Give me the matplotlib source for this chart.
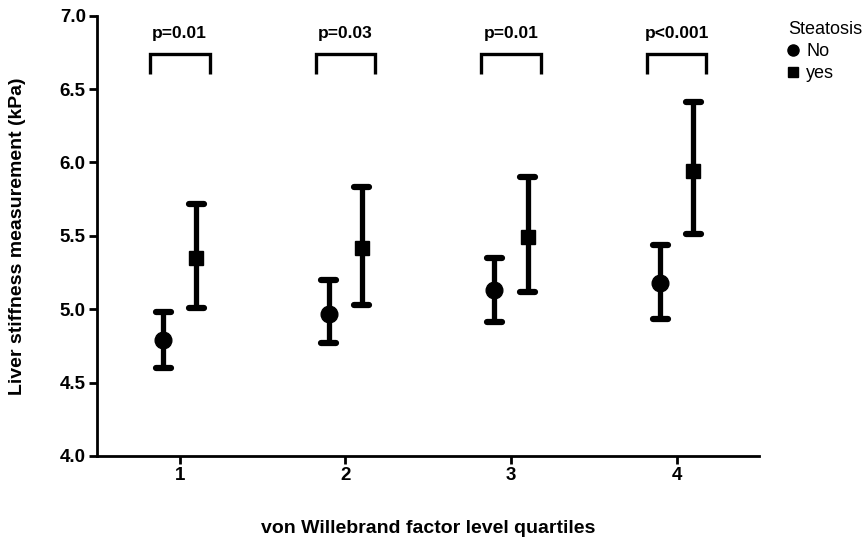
import numpy as np
import matplotlib.pyplot as plt
from matplotlib.lines import Line2D

plt.rcParams['font.family'] = ['Liberation Sans', 'DejaVu Sans']

# von Willebrand factor quartiles
quartiles = [1, 2, 3, 4]

# LSM (kPa): mean and 95% CI, no steatosis
no_mean = [4.79, 4.97, 5.13, 5.18]
no_low = [4.60, 4.77, 4.91, 4.93]
no_high = [4.98, 5.20, 5.35, 5.44]

# LSM (kPa): mean and 95% CI, steatosis
yes_mean = [5.35, 5.42, 5.49, 5.94]
yes_low = [5.01, 5.03, 5.12, 5.51]
yes_high = [5.72, 5.83, 5.90, 6.41]

p_labels = ['p=0.01', 'p=0.03', 'p=0.01', 'p<0.001']

x = np.array(quartiles, dtype=float)
dx = 0.1

fig = plt.figure(figsize=(8.65, 5.44), dpi=100)
ax = fig.add_axes([0.112, 0.162, 0.766, 0.809])


def draw_group(xpos, mean, low, high, marker, ms):
    mean = np.array(mean)
    yerr = [mean - np.array(low), np.array(high) - mean]
    ax.errorbar(xpos, mean, yerr=yerr, fmt=marker, ms=ms, color='black',
                ecolor='black', elinewidth=3.8, capsize=0, zorder=3)
    # rounded caps drawn as short thick lines
    for xi, lo, hi in zip(xpos, low, high):
        for yv in (lo, hi):
            ax.plot([xi - 0.045, xi + 0.045], [yv, yv], color='black', lw=4.5,
                    solid_capstyle='round', zorder=3)


draw_group(x - dx, no_mean, no_low, no_high, 'o', 12)
draw_group(x + dx, yes_mean, yes_low, yes_high, 's', 9.5)

# significance brackets
for xi, txt in zip(x, p_labels):
    ax.plot([xi - 0.18, xi - 0.18, xi + 0.18, xi + 0.18],
            [6.60, 6.74, 6.74, 6.60], color='black', lw=2.4,
            solid_capstyle='butt', solid_joinstyle='miter')
    ax.text(xi, 6.88, txt, ha='center', va='center', fontsize=12.5,
            fontweight='bold')

ax.set_xlim(0.5, 4.5)
ax.set_ylim(4.0, 7.0)
ax.set_xticks(quartiles)
ax.set_yticks(np.arange(4.0, 7.01, 0.5))
ax.set_yticklabels(['%.1f' % v for v in np.arange(4.0, 7.01, 0.5)])
ax.tick_params(width=2, length=6, labelsize=13.5, direction='out', pad=2)
for lab in ax.get_xticklabels() + ax.get_yticklabels():
    lab.set_fontweight('bold')

for side in ['top', 'right']:
    ax.spines[side].set_visible(False)
for side in ['left', 'bottom']:
    ax.spines[side].set_linewidth(2)

ax.set_ylabel('Liver stiffness measurement (kPa)', fontsize=14,
              fontweight='bold', labelpad=24)
ax.set_xlabel('von Willebrand factor level quartiles', fontsize=14,
              fontweight='bold', labelpad=26)

handles = [Line2D([], [], ls='none', marker='o', color='black', ms=8),
           Line2D([], [], ls='none', marker='s', color='black', ms=7)]
leg = fig.legend(handles, ['No', 'yes'], title='Steatosis', loc='upper left',
                 bbox_to_anchor=(0.911, 0.962), frameon=False, fontsize=13,
                 title_fontsize=13, handlelength=0.6, handletextpad=0.4,
                 labelspacing=0.28, borderpad=0, borderaxespad=0)
leg._legend_box.align = 'left'
leg._legend_box.sep = 4

fig.savefig('out.png', dpi=100)
